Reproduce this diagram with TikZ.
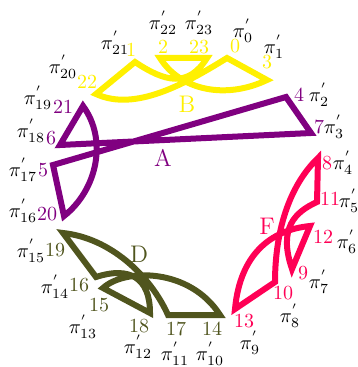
\documentclass[tikz,border=0pt]{standalone}
\usepackage{amsmath,amssymb}
\usepackage{xcolor}
\usepackage{tikz}
\definecolor{ribyellow}{RGB}{255,240,0}
\definecolor{ribpurple}{RGB}{128,0,128}
\definecolor{ribred}{RGB}{255,0,85}
\definecolor{ribolive}{RGB}{80,85,30}

\begin{document}
\begin{tikzpicture}[
  x=0.5pt,y=-0.5pt,
  ribbon/.style={line width=3pt,line join=miter},
  perm/.style={inner sep=0pt,text=black},
  yellownum/.style={inner sep=0pt,text=ribyellow},
  purplenum/.style={inner sep=0pt,text=ribpurple},
  rednum/.style={inner sep=0pt,text=ribred},
  olivenum/.style={inner sep=0pt,text=ribolive},
  facename/.style={font=\large}
]
\useasboundingbox (0,0) rectangle (357,367);

% corners of the faces
\coordinate (c22) at (96,94);
\coordinate (c1) at (135,62);
\coordinate (c2) at (160,58);
\coordinate (c23) at (207,58);
\coordinate (c0) at (227,58);
\coordinate (c3) at (267,80);
\coordinate (c4) at (286,97);
\coordinate (c7) at (311,133);
\coordinate (c6) at (60,145);
\coordinate (c21) at (83,106);
\coordinate (c20) at (64,216);
\coordinate (c5) at (53,165);
\coordinate (c8) at (318,158);
\coordinate (c11) at (317,202);
\coordinate (c12) at (310,226);
\coordinate (c9) at (292,269);
\coordinate (c10) at (275,282);
\coordinate (c13) at (235,309);
\coordinate (c19) at (63,233);
\coordinate (c16) at (96,277);
\coordinate (c15) at (103,288);
\coordinate (c18) at (150,313);
\coordinate (c17) at (168,315);
\coordinate (c14) at (220,315);

% faces
\draw[ribbon,ribyellow] (c22) -- (c1) .. controls (165,82) and (188,88) .. (c23) -- (c2)
  .. controls (180,90) and (225,100) .. (c3) -- (c0) .. controls (185,84) and (135,112) .. cycle;
\draw[ribbon,ribpurple] (c4) -- (c7) -- (c6) -- (c21) .. controls (108,140) and (97,190) .. (c20) -- (c5) -- cycle;
\draw[ribbon,ribred] (c8) -- (c11) .. controls (295,212) and (278,228) .. (c9) -- (c12)
  .. controls (270,230) and (240,255) .. (c13) -- (c10) .. controls (275,240) and (285,190) .. cycle;
\draw[ribbon,ribolive] (c19) -- (c16) .. controls (130,266) and (150,278) .. (c18) -- (c15)
  .. controls (125,268) and (190,268) .. (c14) -- (c17) .. controls (150,275) and (110,238) .. cycle;

% numbers
\node[yellownum] (n1) at (131,50) {1};
\node[yellownum] (n2) at (163,47) {2};
\node[yellownum] (n23) at (199,47) {23};
\node[yellownum] (n0) at (235,46) {0};
\node[yellownum] (n3) at (267,62) {3};
\node[yellownum] (n22) at (87,82) {22};
\node[purplenum] (n21) at (63,107) {21};
\node[purplenum] (n6) at (51,138) {6};
\node[purplenum] (n5) at (43,170) {5};
\node[purplenum] (n20) at (47,214) {20};
\node[purplenum] (n4) at (299,95) {4};
\node[purplenum] (n7) at (319,127) {7};
\node[olivenum] (n19) at (55,250) {19};
\node[olivenum] (n16) at (79,285) {16};
\node[olivenum] (n15) at (99,305) {15};
\node[olivenum] (n18) at (139,326) {18};
\node[olivenum] (n17) at (176,329) {17};
\node[olivenum] (n14) at (212,329) {14};
\node[rednum] (n13) at (244,321) {13};
\node[rednum] (n10) at (283,293) {10};
\node[rednum] (n9) at (303,273) {9};
\node[rednum] (n12) at (323,237) {12};
\node[rednum] (n11) at (330,199) {11};
\node[rednum] (n8) at (327,163) {8};

% face names
\node[purplenum,facename] (facea) at (163,158) {A};
\node[yellownum,facename] (faceb) at (187,104) {B};
\node[olivenum,facename] (faced) at (139,254) {D};
\node[rednum,facename] (facef) at (267,226) {F};

% outer ring
\node[perm] (p0) at (243,31) {$\pi^{'}_{0}$};
\node[perm] (p1) at (274,47) {$\pi^{'}_{1}$};
\node[perm] (p2) at (319,95) {$\pi^{'}_{2}$};
\node[perm] (p3) at (334,127) {$\pi^{'}_{3}$};
\node[perm] (p4) at (343,163) {$\pi^{'}_{4}$};
\node[perm] (p5) at (349,201) {$\pi^{'}_{5}$};
\node[perm] (p6) at (347,242) {$\pi^{'}_{6}$};
\node[perm] (p7) at (319,282) {$\pi^{'}_{7}$};
\node[perm] (p8) at (290,316) {$\pi^{'}_{8}$};
\node[perm] (p9) at (250,343) {$\pi^{'}_{9}$};
\node[perm] (p10) at (210,354) {$\pi^{'}_{10}$};
\node[perm] (p11) at (175,354) {$\pi^{'}_{11}$};
\node[perm] (p12) at (138,347) {$\pi^{'}_{12}$};
\node[perm] (p13) at (83,327) {$\pi^{'}_{13}$};
\node[perm] (p14) at (55,287) {$\pi^{'}_{14}$};
\node[perm] (p15) at (31,251) {$\pi^{'}_{15}$};
\node[perm] (p16) at (23,211) {$\pi^{'}_{16}$};
\node[perm] (p17) at (23,170) {$\pi^{'}_{17}$};
\node[perm] (p18) at (31,131) {$\pi^{'}_{18}$};
\node[perm] (p19) at (38,98) {$\pi^{'}_{19}$};
\node[perm] (p20) at (63,67) {$\pi^{'}_{20}$};
\node[perm] (p21) at (115,43) {$\pi^{'}_{21}$};
\node[perm] (p22) at (163,23) {$\pi^{'}_{22}$};
\node[perm] (p23) at (199,23) {$\pi^{'}_{23}$};
\end{tikzpicture}
\end{document}
